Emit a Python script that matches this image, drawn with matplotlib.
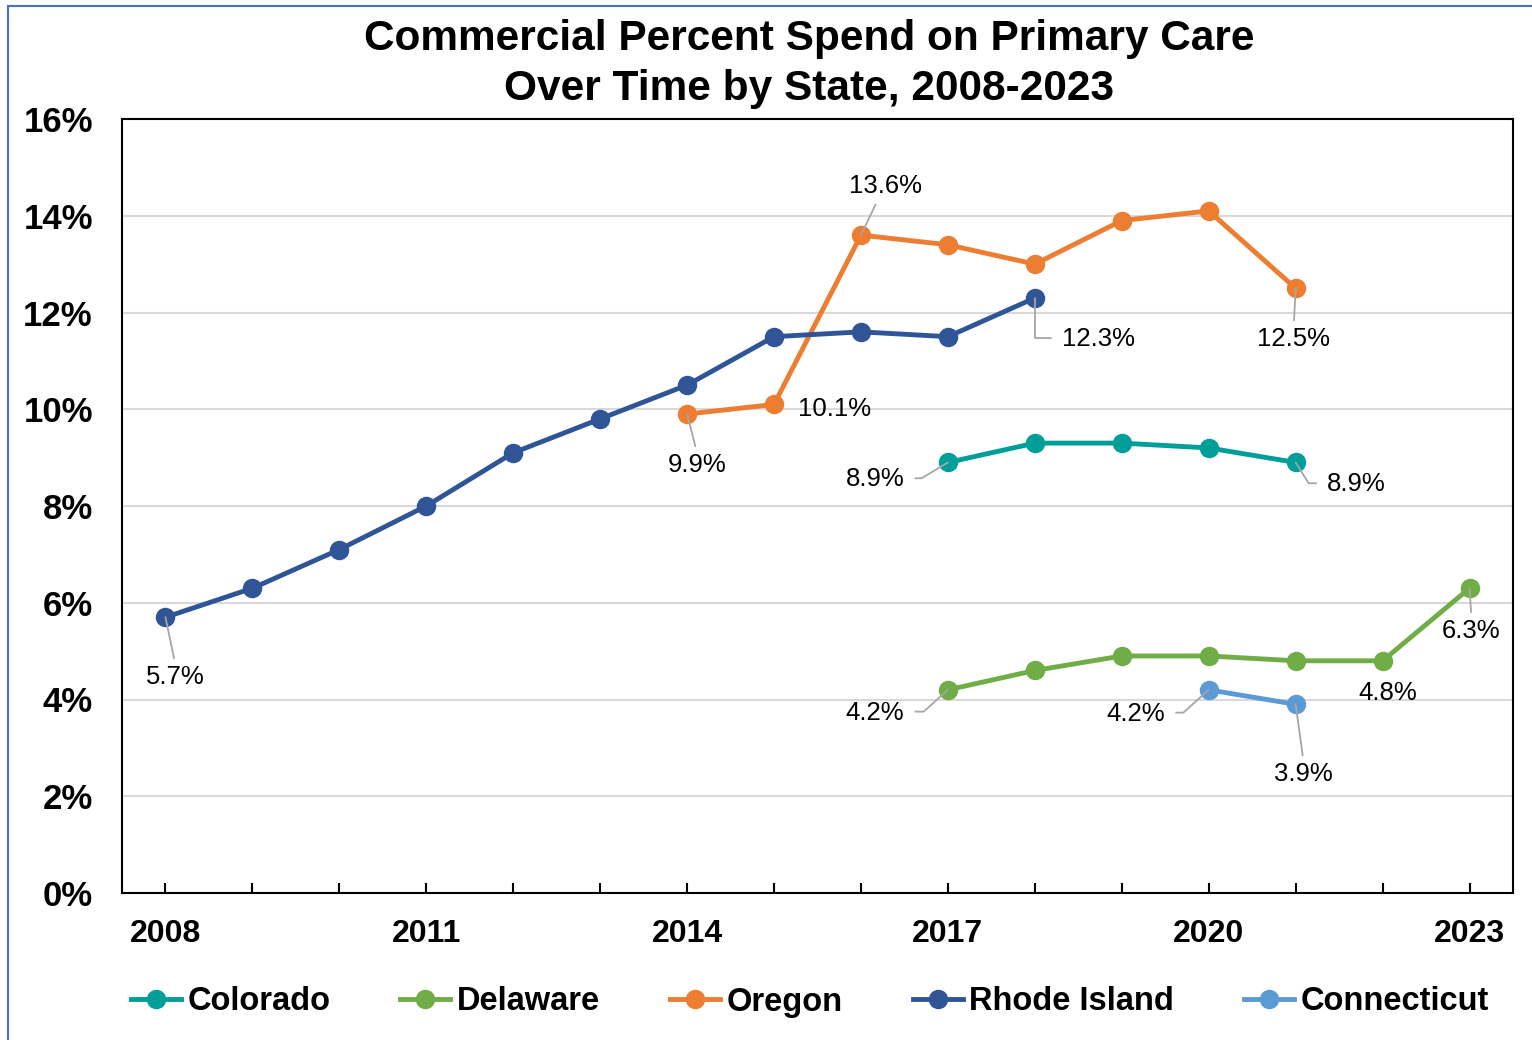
import matplotlib
matplotlib.use("Agg")
import matplotlib.pyplot as plt
from matplotlib.patches import Rectangle

plt.rcParams['font.family'] = ['Liberation Sans', 'DejaVu Sans']

# data (percent of commercial spend)
years_ri = [2008, 2009, 2010, 2011, 2012, 2013, 2014, 2015, 2016, 2017, 2018]
rhode_island = [5.7, 6.3, 7.1, 8.0, 9.1, 9.8, 10.5, 11.5, 11.6, 11.5, 12.3]

years_or = [2014, 2015, 2016, 2017, 2018, 2019, 2020, 2021]
oregon = [9.9, 10.1, 13.6, 13.4, 13.0, 13.9, 14.1, 12.5]

years_co = [2017, 2018, 2019, 2020, 2021]
colorado = [8.9, 9.3, 9.3, 9.2, 8.9]

years_de = [2017, 2018, 2019, 2020, 2021, 2022, 2023]
delaware = [4.2, 4.6, 4.9, 4.9, 4.8, 4.8, 6.3]

years_ct = [2020, 2021]
connecticut = [4.2, 3.9]

colors = {
    'Colorado': '#009E99',
    'Delaware': '#70AD47',
    'Oregon': '#ED7D31',
    'Rhode Island': '#2F5597',
    'Connecticut': '#5B9BD5',
}

series = {
    'Colorado': (years_co, colorado),
    'Delaware': (years_de, delaware),
    'Oregon': (years_or, oregon),
    'Rhode Island': (years_ri, rhode_island),
    'Connecticut': (years_ct, connecticut),
}

# which points get a label, where (pixel offset) and how the leader runs
# leader: None = no line, 'below'/'above' = straight line,
# or (side, angle at point) for an elbow line
labels = [
    ('Rhode Island', 0, (10, -60), 'below'),
    ('Rhode Island', 10, (64, -41), ('right', 90)),
    ('Oregon', 0, (10, -51), 'below'),
    ('Oregon', 1, (61, -5), None),
    ('Oregon', 2, (25, 49), 'above'),
    ('Oregon', 7, (-2, -51), 'below'),
    ('Colorado', 0, (-73, -17), ('left', 31)),
    ('Colorado', 4, (61, -22), ('right', -58)),
    ('Delaware', 0, (-73, -23), ('left', 42)),
    ('Delaware', 5, (5, -32), None),
    ('Delaware', 6, (2, -43), 'below'),
    ('Connecticut', 0, (-73, -24), ('left', 42)),
    ('Connecticut', 1, (8, -70), 'below'),
]

fig = plt.figure(figsize=(15.32, 10.4), dpi=100)
ax = fig.add_axes([122 / 1532, 147 / 1040, (1513 - 122) / 1532, (893 - 119) / 1040])

for name, (xs, ys) in series.items():
    ax.plot(xs, ys, color=colors[name], lw=3.5, marker='o', markersize=13,
            label=name, zorder=3)

for name, idx, off, leader in labels:
    xs, ys = series[name]
    props = None
    if leader == 'below':
        props = dict(arrowstyle='-', color='#A6A6A6', lw=1.3, shrinkA=3,
                     shrinkB=0, relpos=(0.5, 1.0))
    elif leader == 'above':
        props = dict(arrowstyle='-', color='#A6A6A6', lw=1.3, shrinkA=3,
                     shrinkB=0, relpos=(0.4, 0.0))
    elif leader is not None:
        side, ang = leader
        props = dict(arrowstyle='-', color='#A6A6A6', lw=1.3, shrinkA=6,
                     shrinkB=0, relpos=(1.0, 0.55) if side == 'left' else (0.0, 0.55),
                     connectionstyle=f"angle,angleA=0,angleB={ang},rad=0")
    ax.annotate(f"{ys[idx]:.1f}%", (xs[idx], ys[idx]), xytext=off,
                textcoords='offset pixels', ha='center', va='center',
                fontsize=18.5, color='black', arrowprops=props, zorder=4)

ax.set_xlim(2007.5, 2023.5)
ax.set_ylim(0, 16)
ax.set_yticks(range(0, 17, 2))
ax.set_yticklabels([f"{v}%" for v in range(0, 17, 2)], fontsize=25,
                   fontweight='bold')
ax.set_xticks(range(2008, 2024))
ax.set_xticklabels([str(y) if (y - 2008) % 3 == 0 else '' for y in range(2008, 2024)],
                   fontsize=23, fontweight='bold')
ax.tick_params(axis='y', length=0, pad=21)
ax.tick_params(axis='x', direction='in', length=7, width=1.5, pad=19)
ax.grid(axis='y', color='#D9D9D9', lw=1.5)
ax.set_axisbelow(True)
for sp in ax.spines.values():
    sp.set_linewidth(1.5)
    sp.set_color('black')

fig.text(809 / 1532, 1 - 64 / 1040,
         "Commercial Percent Spend on Primary Care\nOver Time by State, 2008-2023",
         ha='center', va='center', fontsize=30.5, fontweight='bold',
         linespacing=1.3)

fig.legend(loc='center', bbox_to_anchor=(810 / 1532, 38 / 1040), ncol=5,
           frameon=False, handlelength=1.53, handletextpad=0.2,
           columnspacing=2.15, prop={'weight': 'bold', 'size': 23.5})

fig.patches.append(Rectangle((8 / 1532, -0.05), 1.1, 1 - 6 / 1040 + 0.05,
                             transform=fig.transFigure, fill=False,
                             edgecolor='#4472C4', lw=1.5))

fig.savefig('out.png', dpi=100)
